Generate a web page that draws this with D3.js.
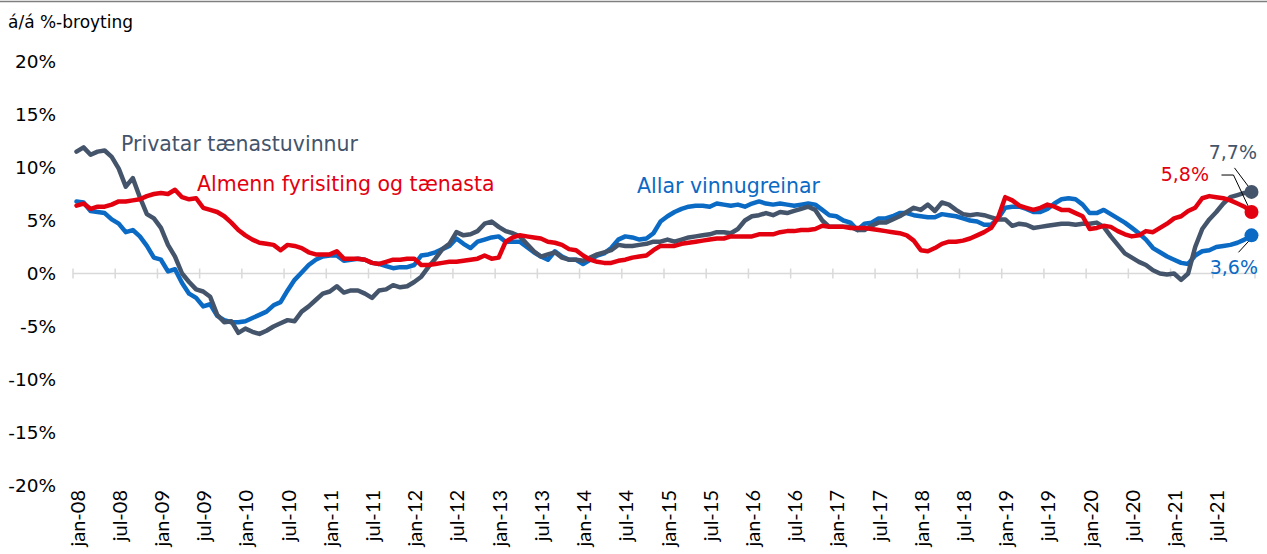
<!DOCTYPE html>
<html>
<head>
<meta charset="utf-8">
<script src="https://cdn.jsdelivr.net/npm/d3@7"></script>
<style>
  body { margin: 0; background: #fff; }
  svg { display: block; }
</style>
</head>
<body>
<script>
// á/á %-broyting, monthly jan-08 .. des-21
var privatar = [11.5,11.9,11.2,11.5,11.6,11.0,9.9,8.2,9.0,7.2,5.6,5.2,
  4.3,2.7,1.6,0.0,-0.8,-1.5,-1.7,-2.2,-3.9,-4.6,-4.5,-5.6,
  -5.2,-5.5,-5.7,-5.4,-5.0,-4.7,-4.4,-4.5,-3.6,-3.1,-2.5,-1.9,
  -1.7,-1.2,-1.8,-1.6,-1.6,-1.9,-2.3,-1.6,-1.5,-1.1,-1.3,-1.2,
  -0.8,-0.3,0.6,1.4,2.3,2.8,3.9,3.6,3.7,4.0,4.7,4.9,
  4.4,4.0,3.8,3.5,2.8,2.1,1.6,1.8,2.0,1.5,1.3,1.3,
  1.2,1.5,1.8,2.0,2.2,2.7,2.6,2.6,2.7,2.8,3.0,3.0,
  3.2,3.0,3.2,3.4,3.5,3.6,3.7,3.9,3.9,3.8,4.2,5.0,
  5.4,5.5,5.7,5.5,5.8,5.7,5.9,6.1,6.3,6.0,5.0,4.4,
  4.4,4.4,4.4,4.1,4.1,4.5,4.8,4.8,5.1,5.4,5.8,6.2,
  6.0,6.5,5.9,6.7,6.5,6.0,5.6,5.5,5.6,5.5,5.3,5.1,
  5.1,4.5,4.7,4.6,4.3,4.4,4.5,4.6,4.7,4.7,4.6,4.7,
  4.7,4.8,4.4,3.5,2.7,1.9,1.5,1.1,0.8,0.3,0.0,-0.1,
  0.0,-0.6,0.0,2.5,4.2,5.1,5.8,6.6,7.2,7.4,7.6,7.7];

var almenn = [6.4,6.6,6.1,6.3,6.3,6.5,6.8,6.8,6.9,7.0,7.3,7.5,
  7.6,7.5,7.9,7.2,7.0,7.1,6.2,6.0,5.8,5.4,4.8,4.1,
  3.6,3.2,2.9,2.8,2.7,2.2,2.7,2.6,2.4,2.0,1.8,1.8,
  1.8,2.1,1.4,1.4,1.4,1.3,1.0,0.9,1.1,1.3,1.3,1.4,
  1.4,0.8,0.8,0.9,1.0,1.1,1.1,1.2,1.3,1.4,1.7,1.4,
  1.5,3.0,3.4,3.6,3.5,3.4,3.3,3.0,2.9,2.7,2.3,2.2,
  1.7,1.3,1.1,1.0,1.0,1.2,1.3,1.5,1.6,1.7,2.2,2.6,
  2.6,2.6,2.8,2.9,3.0,3.1,3.2,3.3,3.3,3.5,3.5,3.5,
  3.5,3.7,3.7,3.7,3.9,4.0,4.0,4.1,4.1,4.2,4.5,4.4,
  4.4,4.4,4.3,4.3,4.3,4.2,4.1,4.0,3.9,3.8,3.6,3.1,
  2.2,2.1,2.4,2.8,3.0,3.0,3.1,3.3,3.6,3.9,4.3,5.3,
  7.2,6.9,6.4,6.2,6.0,6.2,6.5,6.3,6.0,6.0,5.7,5.4,
  4.2,4.3,4.5,4.4,4.0,3.7,3.5,3.6,4.0,3.9,4.3,4.7,
  5.2,5.4,5.9,6.2,7.1,7.3,7.2,7.1,6.9,6.6,6.3,5.8];

var allar = [6.8,6.7,5.9,5.8,5.7,5.1,4.7,3.9,4.1,3.5,2.6,1.5,
  1.3,0.2,0.4,-0.9,-1.9,-2.3,-3.1,-2.9,-4.0,-4.4,-4.6,-4.6,
  -4.5,-4.2,-3.9,-3.6,-3.0,-2.7,-1.6,-0.6,0.1,0.8,1.3,1.6,
  1.7,1.7,1.2,1.3,1.4,1.3,1.0,0.9,0.7,0.5,0.6,0.6,
  0.8,1.7,1.8,2.0,2.3,2.6,3.3,2.8,2.4,3.0,3.2,3.4,
  3.5,3.0,3.0,3.0,2.5,2.0,1.6,1.3,2.1,1.6,1.3,1.3,
  0.9,1.3,1.7,1.9,2.4,3.2,3.5,3.4,3.2,3.3,3.8,4.9,
  5.4,5.8,6.1,6.3,6.4,6.4,6.3,6.6,6.5,6.4,6.5,6.3,
  6.6,6.8,6.6,6.5,6.6,6.5,6.4,6.5,6.6,6.5,6.0,5.5,
  5.4,5.0,4.8,4.1,4.7,4.8,5.2,5.2,5.4,5.7,5.7,5.5,
  5.4,5.3,5.3,5.6,5.5,5.4,5.2,5.0,4.9,4.6,4.6,5.2,
  6.2,6.3,6.3,6.1,5.8,5.8,6.1,6.6,7.0,7.1,7.0,6.5,
  5.7,5.7,6.0,5.6,5.2,4.8,4.3,3.8,3.2,2.4,2.0,1.6,
  1.3,1.0,0.9,1.7,2.1,2.2,2.5,2.6,2.7,2.9,3.2,3.6];

var tickLabels = ["jan-08","jul-08","jan-09","jul-09","jan-10","jul-10","jan-11","jul-11",
  "jan-12","jul-12","jan-13","jul-13","jan-14","jul-14","jan-15","jul-15","jan-16","jul-16",
  "jan-17","jul-17","jan-18","jul-18","jan-19","jul-19","jan-20","jul-20","jan-21","jul-21"];
var yTicks = [20,15,10,5,0,-5,-10,-15,-20];

var series = [
  {name: "Allar vinnugreinar", values: allar, color: "#0a6ac4", lx: 637, ly: 193},
  {name: "Privatar tænastuvinnur", values: privatar, color: "#44546a", lx: 121, ly: 151},
  {name: "Almenn fyrisiting og tænasta", values: almenn, color: "#e3000f", lx: 197, ly: 191}
];

var width = 1267, height = 554;
var n = privatar.length;

var svg = d3.select("body").append("svg")
  .attr("width", width)
  .attr("height", height)
  .style("font-family", "'DejaVu Sans', Verdana, sans-serif");

var x = d3.scaleLinear().domain([0, n]).range([73, 1255]);
var y = d3.scaleLinear().domain([-20, 20]).range([485.5, 61.5]);

// top rule
svg.append("line")
  .attr("x1", 0).attr("x2", width)
  .attr("y1", 1.5).attr("y2", 1.5)
  .attr("stroke", "#7f7f7f").attr("stroke-width", 1.5);

svg.append("text")
  .attr("x", 8).attr("y", 28)
  .attr("font-size", 17)
  .attr("fill", "#000")
  .text("á/á %-broyting");

// y labels
svg.selectAll(".ylab")
  .data(yTicks)
  .enter().append("text")
  .attr("class", "ylab")
  .attr("x", 56)
  .attr("y", function(d){ return y(d); })
  .attr("dy", "0.36em")
  .attr("text-anchor", "end")
  .attr("font-size", 18.5)
  .attr("fill", "#000")
  .text(function(d){ return d + "%"; });

// zero axis with ticks every 6 months
var tickIdx = d3.range(0, n + 1, 6);
svg.append("line")
  .attr("x1", x(0)).attr("x2", x(n))
  .attr("y1", y(0)).attr("y2", y(0))
  .attr("stroke", "#d9d9d9").attr("stroke-width", 1.5);
svg.selectAll(".tick")
  .data(tickIdx)
  .enter().append("line")
  .attr("x1", function(d){ return x(d); })
  .attr("x2", function(d){ return x(d); })
  .attr("y1", y(0) - 5).attr("y2", y(0) + 5)
  .attr("stroke", "#d9d9d9").attr("stroke-width", 1.5);

svg.selectAll(".xlab")
  .data(tickLabels)
  .enter().append("text")
  .attr("class", "xlab")
  .attr("transform", function(d, i){ return "translate(" + (x(i * 6 + 0.5) + 1) + ",490) rotate(-90)"; })
  .attr("dy", "0.35em")
  .attr("text-anchor", "end")
  .attr("font-family", "Lato, 'Liberation Sans', sans-serif")
  .attr("font-size", 20)
  .attr("fill", "#000")
  .text(function(d){ return d; });

var line = d3.line()
  .x(function(d, i){ return x(i + 0.5); })
  .y(function(d){ return y(d); });

series.forEach(function(s){
  svg.append("path")
    .datum(s.values)
    .attr("d", line)
    .attr("fill", "none")
    .attr("stroke", s.color)
    .attr("stroke-width", 4.5)
    .attr("stroke-linejoin", "round")
    .attr("stroke-linecap", "round");
});

series.forEach(function(s){
  svg.append("text")
    .attr("x", s.lx).attr("y", s.ly)
    .attr("font-size", 20.5)
    .attr("fill", s.color)
    .text(s.name);
});

// end points
var ex = x(n - 0.5);
var ends = {
  gray: y(privatar[n - 1]),
  red: y(almenn[n - 1]),
  blue: y(allar[n - 1])
};

// leader lines
var leaders = [
  [[ex - 17, ends.gray - 24], [ex - 2, ends.gray - 4]],
  [[ex - 30, ends.red - 37], [ex - 18, ends.red - 37], [ex - 1, ends.red - 1]],
  [[ex - 13, ends.blue + 17], [ex - 2, ends.blue + 5]]
];
leaders.forEach(function(pts){
  svg.append("path")
    .attr("d", d3.line()(pts))
    .attr("fill", "none")
    .attr("stroke", "#000")
    .attr("stroke-width", 1);
});

series.forEach(function(s){
  svg.append("circle")
    .attr("cx", ex)
    .attr("cy", y(s.values[n - 1]))
    .attr("r", 7)
    .attr("fill", s.color);
});

svg.append("text").attr("x", 1257).attr("y", 159).attr("text-anchor", "end")
  .attr("font-size", 19).attr("fill", "#44546a").text("7,7%");
svg.append("text").attr("x", 1209).attr("y", 181).attr("text-anchor", "end")
  .attr("font-size", 19).attr("fill", "#e3000f").text("5,8%");
svg.append("text").attr("x", 1258).attr("y", 274).attr("text-anchor", "end")
  .attr("font-size", 19).attr("fill", "#0a6ac4").text("3,6%");
</script>
</body>
</html>
